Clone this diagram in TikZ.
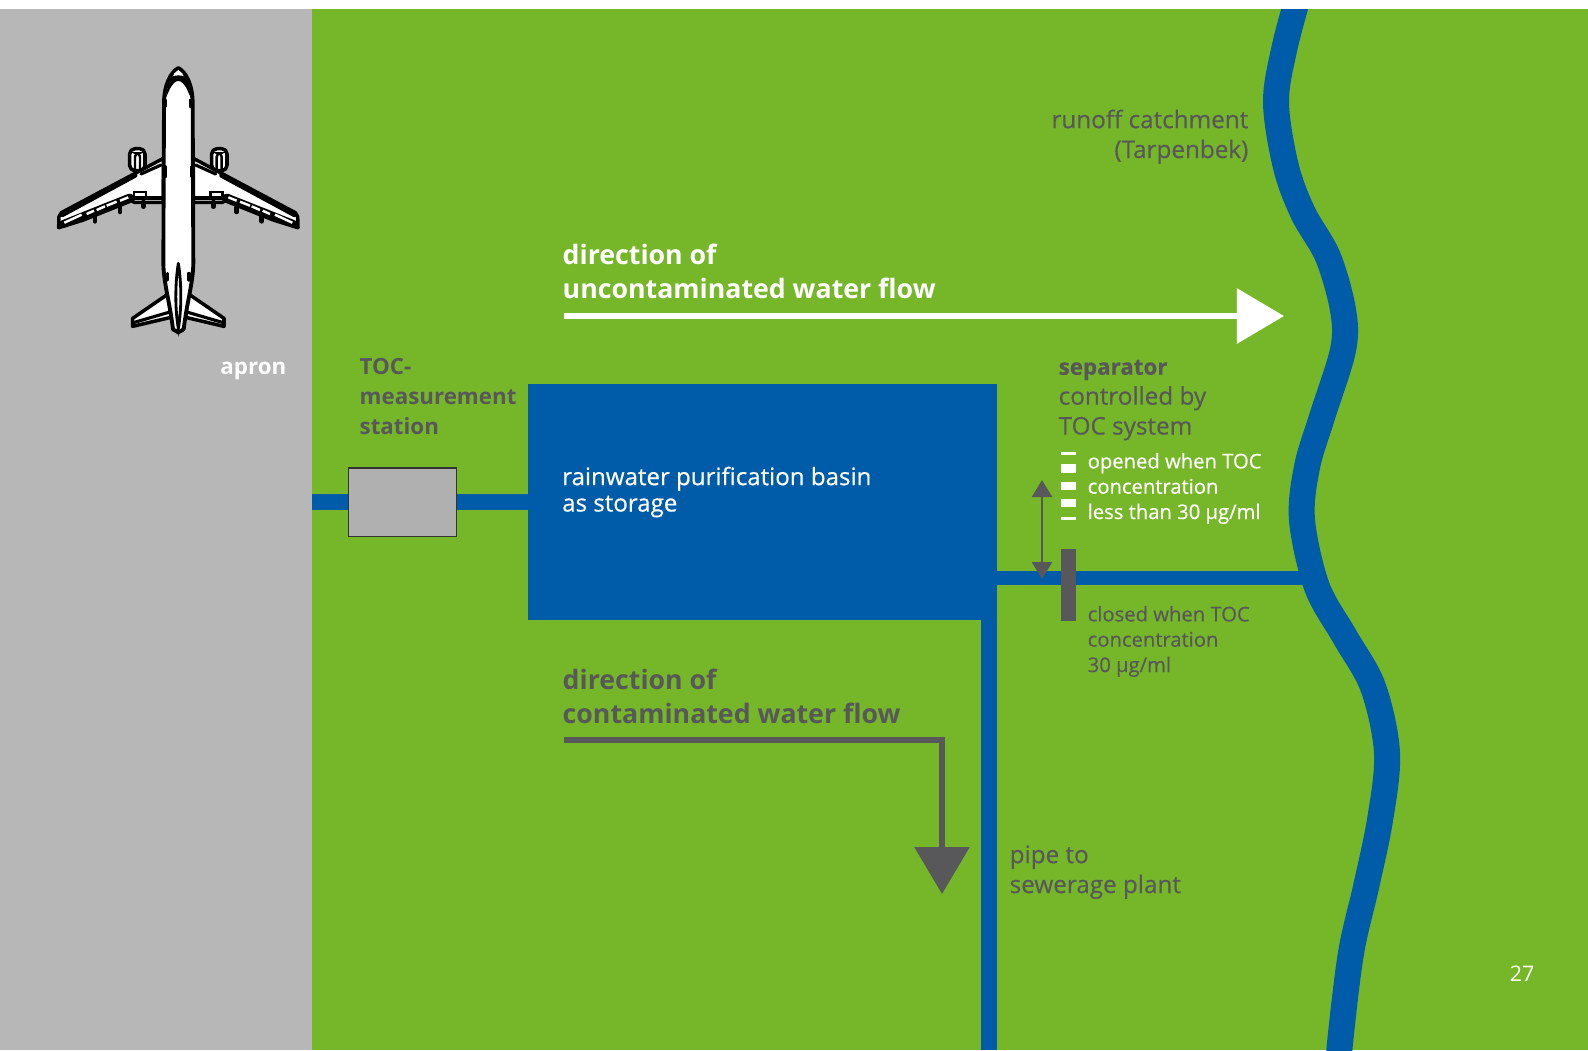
\documentclass[tikz,border=0pt]{standalone}
\usepackage{fontspec}
\setmainfont{Open Sans}
\newfontfamily\mediumfont[FakeBold=0.4]{Open Sans}
\usetikzlibrary{arrows.meta}
\definecolor{apronGray}{HTML}{B7B7B7}
\definecolor{stationGray}{HTML}{B0B0B0}
\definecolor{meadow}{HTML}{76B729}
\definecolor{waterBlue}{HTML}{005CA9}
\definecolor{labelGray}{HTML}{58585A}
\newcommand{\bigsize}{\fontsize{7.6}{9.6}\selectfont}
\newcommand{\boldsize}{\fontsize{6.35}{8.5}\selectfont}
\newcommand{\midsize}{\fontsize{6.9}{8.5}\selectfont}
\newcommand{\smallsize}{\fontsize{5.75}{7.2}\selectfont}
\tikzset{
  pipe/.style={draw=waterBlue, line width=0.16cm},
  flowtip/.style={-{Triangle[length=0.47cm, width=0.54cm]}},
  label/.style={inner sep=0pt, align=left, anchor=base west},
  plane/.style={draw=black, fill=white, line width=1pt, line join=round},
  planeline/.style={draw=black, line width=0.5pt, line cap=round}
}
\begin{document}
\begin{tikzpicture}[x=0.01cm, y=-0.01cm]
  \useasboundingbox (0,0) rectangle (1588,1050);

  % ground
  \fill[apronGray] (0,9) rectangle (312,1050);
  \fill[meadow] (312,9) rectangle (1588,1050);

  % river
  \begin{scope}
    \clip (0,9) rectangle (1588,1050);
    \draw[draw=waterBlue, line width=0.26cm] plot[smooth, tension=0.55] coordinates {
      (1298,-3) (1284,50) (1276,103) (1286,167) (1303,213) (1328,257) (1343,310) (1343,350)
      (1322,417) (1307,467) (1302,520) (1317,587) (1345,637) (1373,687) (1387,753)
      (1380,820) (1366,887) (1351,953) (1340,1043) (1339,1070)};
  \end{scope}

  % basin, station and pipes
  \node[fill=waterBlue, draw=waterBlue, line width=0.1pt, minimum width=4.68cm, minimum height=2.35cm, inner sep=0pt] (basin) at (762.5,502) {};
  \node[fill=stationGray, draw=black!80, line width=0.3pt, minimum width=1.08cm, minimum height=0.68cm, inner sep=0pt] (station) at (402.5,502) {};
  \coordinate (inlet) at (312,502);
  \coordinate (riverjoin) at (1307,578);
  \coordinate (bottom) at (988.5,1050);
  \draw[pipe] (inlet) -- (station);
  \draw[pipe] (station) -- (basin);
  \draw[pipe, line width=0.145cm] (basin.east |- riverjoin) -- (riverjoin);
  \draw[pipe] (basin.south -| bottom) -- (bottom);

  % flow arrows
  \coordinate (cleanstart) at (564,316);
  \coordinate (cleanend) at (1284,316);
  \coordinate (dirtystart) at (564,740);
  \coordinate (dirtyend) at (942,894);
  \draw[white, line width=0.06cm, flowtip] (cleanstart) -- (cleanend);
  \draw[labelGray, line width=0.06cm, flowtip] (dirtystart) -| (dirtyend);

  % separator
  \coordinate (sepup) at (1042,480);
  \coordinate (sepdown) at (1042,579);
  \draw[labelGray, line width=0.025cm, {Triangle[length=0.17cm, width=0.2cm]}-{Triangle[length=0.17cm, width=0.2cm]}] (sepup) -- (sepdown);
  \node[fill=labelGray, minimum width=0.15cm, minimum height=0.72cm, inner sep=0pt] (separator) at (1068.5,585) {};
  \foreach \ya/\yb in {452/455,464/473,482/490,499/507,517/520} {
    \fill[white] (1061,\ya) rectangle (1076,\yb);
  }

  % aeroplane
  \begin{scope}[shift={(40,50)}, x=0.01cm/3, y=-0.01cm/3]
    \foreach \s in {1,-1} {
      \begin{scope}[shift={(415,0)}, xscale=\s]
        % engine
        \draw[plane, rounded corners=1.5pt] (100,296) rectangle (146,362);
        \draw[planeline, line width=0.7pt, rounded corners=1pt] (115,357) -- (115,310) -- (130,310) -- (130,357);
        % wing
        \draw[plane] (45,325) -- (351,488) -- (358,500) -- (359,533) -- (285,510) -- (140,452) -- (132,457) -- (45,457) -- cycle;
        \draw[planeline, line width=0.9pt] (52,345) -- (112,372);
        \draw[planeline, line width=1.4pt] (130,376) -- (348,494);
        \draw[planeline, line width=2.2pt] (145,442) -- (346,522);
        \draw[planeline, line width=0.9pt] (45,444) -- (135,444);
        \draw[planeline, line width=0.8pt] (97,442) -- (97,426) -- (133,426) -- (133,442);
        \foreach \xa/\ya/\xb/\yb in {150/440/175/450,185/453/215/465,220/467/245/478,253/480/275/490,290/492/342/516} {
          \draw[white, line width=0.7pt] (\xa,\ya+2) -- (\xb,\yb+2);
        }
        \foreach \xa/\ya in {105/456,175/472,250/500} {
          \draw[planeline, line width=1.3pt] (\xa,\ya) -- (\xa,\ya+14);
        }
        % tailplane
        \draw[plane] (28,730) -- (137,805) -- (137,829) -- (22,802) -- cycle;
        \draw[planeline, line width=0.9pt] (22,785) -- (135,818);
      \end{scope}
    }
    % fuselage
    \draw[plane, line width=1.1pt] (415,54) .. controls (438,66) and (458,105) .. (458,160)
      -- (460,640) .. controls (459,700) and (440,760) .. (431,838) -- (415,847) -- (399,838)
      .. controls (390,760) and (371,700) .. (370,640) -- (372,160)
      .. controls (372,105) and (392,66) .. (415,54) -- cycle;
    \draw[planeline, fill=black] (386,90) .. controls (400,75) and (430,75) .. (445,90)
      .. controls (440,100) and (445,110) .. (447,125) .. controls (437,100) and (425,90) .. (415,90)
      .. controls (405,90) and (393,100) .. (383,125) .. controls (385,110) and (390,100) .. (386,90) -- cycle;
    \fill[white] (415,60) -- (430,73) -- (400,73) -- cycle;
    \draw[planeline, line width=0.8pt] (415,640) .. controls (425,700) and (425,780) .. (415,835)
      .. controls (405,780) and (405,700) .. (415,640);
    \draw[planeline, line width=0.9pt] (383,670) -- (383,690) (447,670) -- (447,690);
    \draw[planeline, line width=0.9pt] (377,150) -- (377,170) (453,150) -- (453,170);
    \draw[planeline, line width=0.9pt] (375,350) -- (375,380) (455,350) -- (455,380);
  \end{scope}

  % labels
  \node[label, text=white, anchor=base east, font=\boldsize\bfseries] (apron) at (287,374) {apron};
  \node[label, text=labelGray, font=\boldsize\bfseries] (stationlabel) at (359,434.5) {TOC-\\measurement\\station};
  \node[label, text=white, font=\bigsize\bfseries] (cleanlabel) at (562,298.5) {direction of\\uncontaminated water flow};
  \node[label, text=labelGray, font=\bigsize\bfseries] (dirtylabel) at (562,723.5) {direction of\\contaminated water flow};
  \node[label, text=white, font=\fontsize{6.85}{7.5}\selectfont\mediumfont] (basinlabel) at (561.5,511.5) {rainwater purification basin\\as storage};
  \node[label, text=labelGray, align=right, anchor=base east, font=\midsize\mediumfont] (runofflabel) at (1249,158) {runoff catchment\\(Tarpenbek)};
  \node[label, text=labelGray, font=\midsize\mediumfont] (separatorlabel) at (1058,434.5) {{\boldsize\bfseries separator}\\controlled by\\TOC system};
  \node[label, text=white, font=\smallsize\mediumfont] (openedlabel) at (1087,519) {opened when TOC\\concentration\\less than 30 µg/ml};
  \node[label, text=labelGray, font=\smallsize\mediumfont] (closedlabel) at (1087,672) {closed when TOC\\concentration\\30 µg/ml};
  \node[label, text=labelGray, font=\midsize\mediumfont] (sewerlabel) at (1009,893) {pipe to\\sewerage plant};
  \node[label, text=white, anchor=base east, font=\fontsize{6.1}{7.2}\selectfont] (pagenumber) at (1535,981) {27};
\end{tikzpicture}
\end{document}
